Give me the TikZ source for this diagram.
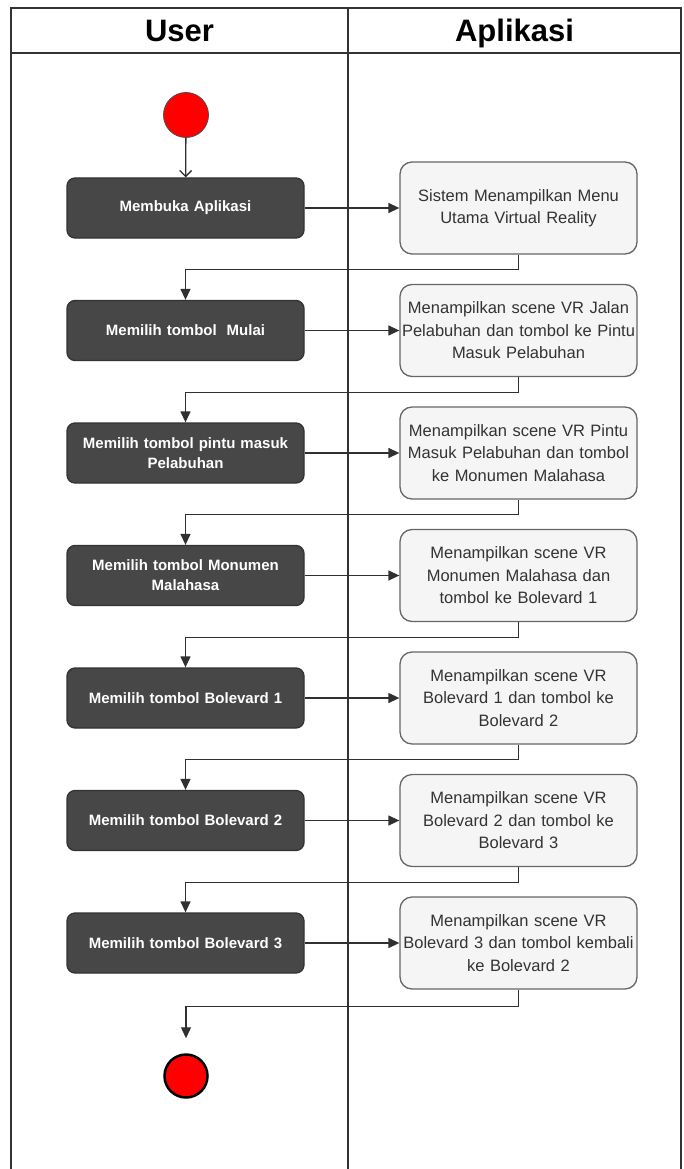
\documentclass[tikz,border=0pt]{standalone}
\usepackage{fontspec}
\setmainfont{Liberation Sans}
\usepackage{tikz}
\usetikzlibrary{positioning}
\usetikzlibrary{arrows.meta}

\definecolor{boxdark}{HTML}{474747}
\definecolor{boxlight}{HTML}{F5F5F5}
\definecolor{edgegray}{HTML}{666666}
\definecolor{textgray}{HTML}{333333}
\definecolor{linegray}{HTML}{303030}

\begin{document}
\begin{tikzpicture}[x=1pt,y=-1pt,>={Triangle[length=11pt,width=10pt]},
	node distance=122.5pt,line width=1.3pt,
	user node/.style={rectangle,rounded corners=8pt,draw=black!80,fill=boxdark,
		text=white,minimum width=237pt,minimum height=60pt,text width=225pt,
		align=center,inner sep=1pt,font=\fontsize{15}{20}\selectfont\bfseries},
	app node/.style={rectangle,rounded corners=12pt,draw=edgegray,fill=boxlight,
		text=textgray,minimum width=237pt,minimum height=92pt,text width=235pt,
		align=center,inner sep=1pt,font=\fontsize{16.5}{22.5}\selectfont},
	start node/.style={circle,draw=black!70,line width=0.8pt,fill=red,
		minimum size=45pt,inner sep=0pt},
	end node/.style={circle,draw=black,line width=2.5pt,fill=red,
		minimum size=43pt,inner sep=0pt},
	lane title/.style={anchor=base,font=\fontsize{31}{36}\selectfont\bfseries},
	flow/.style={draw=linegray,line width=1.3pt}]

	\useasboundingbox (0,0) rectangle (684,1169);

	% swimlanes
	\draw[line width=1.5pt,black!80] (11,1169) -- (11,8) -- (681,8) -- (681,1169);
	\draw[line width=1.5pt,black!80] (11,53) -- (681,53);
	\draw[line width=1.5pt,black!80] (348,8) -- (348,1169);
	\node[lane title] (huser) at (179.5,42) {User};
	\node[lane title] (happ) at (514.5,42) {Aplikasi};

	% user lane
	\node[start node] (start) at (186,115) {};
	\node[user node] (u1) at (185.5,208) {Membuka Aplikasi};
	\node[user node] (u2) [below of=u1] {Memilih tombol\ \ Mulai};
	\node[user node] (u3) [below of=u2] {Memilih tombol pintu masuk\\Pelabuhan};
	\node[user node] (u4) [below of=u3] {Memilih tombol Monumen\\Malahasa};
	\node[user node] (u5) [below of=u4] {Memilih tombol Bolevard 1};
	\node[user node] (u6) [below of=u5] {Memilih tombol Bolevard 2};
	\node[user node] (u7) [below of=u6] {Memilih tombol Bolevard 3};
	\node[end node] (end) at (186,1076) {};
	\coordinate (endtip) at ([yshift=15pt]end.north);

	% aplikasi lane
	\node[app node] (a1) [right of=u1,node distance=333pt] {Sistem Menampilkan Menu\\Utama Virtual Reality};
	\node[app node] (a2) [right of=u2,node distance=333pt] {Menampilkan scene VR Jalan\\Pelabuhan dan tombol ke Pintu\\Masuk Pelabuhan};
	\node[app node] (a3) [right of=u3,node distance=333pt] {Menampilkan scene VR Pintu\\Masuk Pelabuhan dan tombol\\ke Monumen Malahasa};
	\node[app node] (a4) [right of=u4,node distance=333pt] {Menampilkan scene VR\\Monumen Malahasa dan\\tombol ke Bolevard 1};
	\node[app node] (a5) [right of=u5,node distance=333pt] {Menampilkan scene VR\\Bolevard 1 dan tombol ke\\Bolevard 2};
	\node[app node] (a6) [right of=u6,node distance=333pt] {Menampilkan scene VR\\Bolevard 2 dan tombol ke\\Bolevard 3};
	\node[app node] (a7) [right of=u7,node distance=333pt] {Menampilkan scene VR\\Bolevard 3 dan tombol kembali\\ke Bolevard 2};

	\draw[flow,-{Straight Barb[length=6pt,width=12pt]}] (start) -- (u1);
	\foreach \i in {1,...,7}
		\draw[flow,->] (u\i) -- (a\i);
	\foreach \i/\j in {1/2,2/3,3/4,4/5,5/6,6/7}
		\draw[flow,->] (a\i.south) -- ++(0,15) -| (u\j.north);
	\draw[flow,->] (a7.south) -- ++(0,17) -| (endtip);
\end{tikzpicture}
\end{document}
